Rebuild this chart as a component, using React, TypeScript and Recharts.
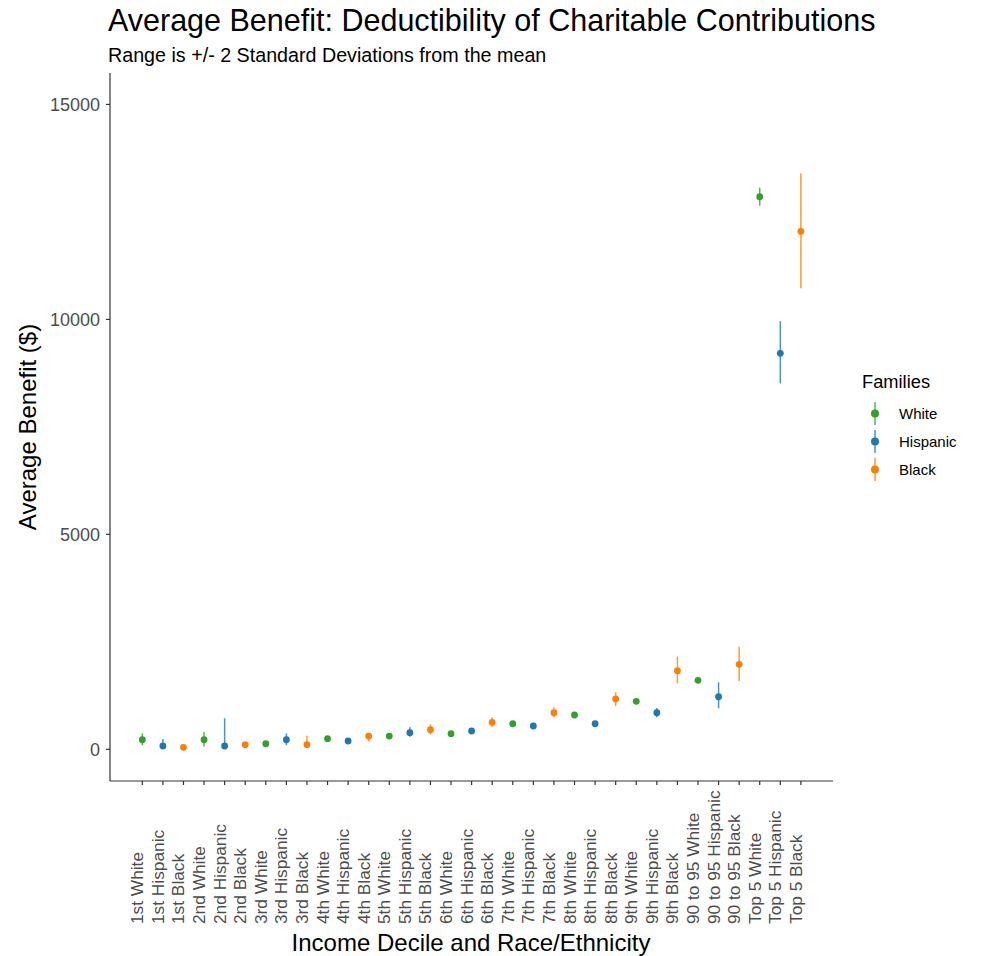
import { ScatterChart, Scatter, XAxis, YAxis, ErrorBar } from "recharts";

const groups = ["White", "Hispanic", "Black"];
const groupColors = ["#33A02C", "#1F78B4", "#FF7F00"];

const categories = [
  "1st White", "1st Hispanic", "1st Black",
  "2nd White", "2nd Hispanic", "2nd Black",
  "3rd White", "3rd Hispanic", "3rd Black",
  "4th White", "4th Hispanic", "4th Black",
  "5th White", "5th Hispanic", "5th Black",
  "6th White", "6th Hispanic", "6th Black",
  "7th White", "7th Hispanic", "7th Black",
  "8th White", "8th Hispanic", "8th Black",
  "9th White", "9th Hispanic", "9th Black",
  "90 to 95 White", "90 to 95 Hispanic", "90 to 95 Black",
  "Top 5 White", "Top 5 Hispanic", "Top 5 Black",
];

// mean benefit ($)
const means = [
  223, 77, 47, 223, 77, 107, 130, 223, 107, 247, 193, 309, 309, 386, 456, 363, 426,
  628, 595, 542, 851, 798, 595, 1170, 1116, 851, 1828, 1605, 1223, 1977,
  12853, 9211, 12049,
];
// mean - 2 SD
const lows = [
  93, 40, 30, 60, 40, 90, 110, 93, 60, 230, 175, 186, 290, 293, 349, 345, 400,
  526, 575, 505, 744, 780, 560, 1007, 1095, 745, 1535, 1580, 954, 1589,
  12644, 8513, 10723,
];
// mean + 2 SD
const highs = [
  372, 240, 65, 402, 721, 125, 150, 372, 316, 265, 212, 379, 330, 512, 582, 382, 460,
  744, 615, 580, 977, 816, 630, 1326, 1140, 960, 2154, 1630, 1558, 2386,
  13063, 9957, 13398,
];

const yTicks = [0, 5000, 10000, 15000];

const FONT = "'Liberation Sans', Arial, sans-serif";

function seriesFor(group: string) {
  return categories
    .map((c, i) => ({
      x: i,
      y: means[i],
      err: [means[i] - lows[i], highs[i] - means[i]],
      label: c,
    }))
    .filter((d) => d.label.endsWith(" " + group));
}

function XTick(props: any) {
  const { x, payload } = props;
  return (
    <text
      transform={`translate(${x + 1},924) rotate(-90)`}
      fontSize={17.3}
      fontFamily={FONT}
      fill="#4d4d4d"
      textAnchor="start"
    >
      {categories[payload.value]}
    </text>
  );
}

export default function App() {
  return (
    <div style={{ position: "absolute", left: 0, top: 0, width: 984, height: 956, background: "#fff" }}>
      <ScatterChart
        width={984}
        height={956}
        margin={{ top: 73, right: 151, bottom: 25, left: 50 }}
      >
        <XAxis
          type="number"
          dataKey="x"
          domain={[-1.57, 33.56]}
          allowDataOverflow
          ticks={categories.map((_, i) => i)}
          interval={0}
          height={150}
          tickSize={4}
          tick={<XTick />}
          axisLine={{ stroke: "#333", strokeWidth: 1.2 }}
          tickLine={{ stroke: "#333", strokeWidth: 1.2 }}
        />
        <YAxis
          type="number"
          dataKey="y"
          domain={[-737, 15731]}
          allowDataOverflow
          ticks={yTicks}
          width={60}
          tickSize={4}
          tickMargin={6}
          tick={{ fontSize: 18, fill: "#4d4d4d", fontFamily: FONT }}
          axisLine={{ stroke: "#333", strokeWidth: 1.2 }}
          tickLine={{ stroke: "#333", strokeWidth: 1.2 }}
        />
        {groups.map((g, gi) => (
          <Scatter
            key={g}
            name={g}
            data={seriesFor(g)}
            dataKey="y"
            fill={groupColors[gi]}
            isAnimationActive={false}
            shape={(p: any) => <circle cx={p.cx} cy={p.cy} r={3.4} fill={groupColors[gi]} />}
          >
            <ErrorBar
              dataKey="err"
              direction="y"
              width={0}
              stroke={groupColors[gi]}
              strokeWidth={1.5}
              strokeOpacity={0.8}
              isAnimationActive={false}
            />
          </Scatter>
        ))}
      </ScatterChart>

      <svg
        width={984}
        height={956}
        style={{ position: "absolute", left: 0, top: 0, pointerEvents: "none" }}
        fontFamily={FONT}
      >
        <text x={108} y={31} fontSize={30.5} fill="#000">
          Average Benefit: Deductibility of Charitable Contributions
        </text>
        <text x={108} y={62} fontSize={19.7} fill="#000">
          Range is +/- 2 Standard Deviations from the mean
        </text>
        <text x={471} y={951} fontSize={24} textAnchor="middle" fill="#000">
          Income Decile and Race/Ethnicity
        </text>
        <text
          transform="translate(36,427) rotate(-90)"
          fontSize={24}
          textAnchor="middle"
          fill="#000"
        >
          Average Benefit ($)
        </text>
        <text x={862} y={388} fontSize={18.3} fill="#000">
          Families
        </text>
        {groups.map((g, gi) => {
          const cy = 413.5 + gi * 28;
          return (
            <g key={g}>
              <line x1={875} x2={875} y1={cy - 11.5} y2={cy + 11.5} stroke={groupColors[gi]} strokeWidth={1.5} strokeOpacity={0.8} />
              <circle cx={875} cy={cy} r={4} fill={groupColors[gi]} />
              <text x={899} y={cy + 5.5} fontSize={15} fill="#000">
                {g}
              </text>
            </g>
          );
        })}
      </svg>
    </div>
  );
}
